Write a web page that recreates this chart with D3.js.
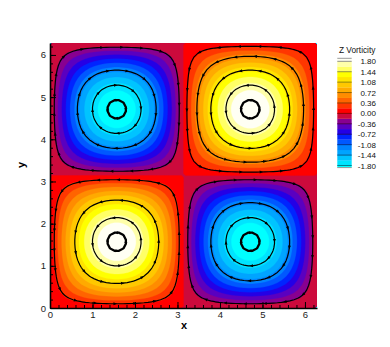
<!DOCTYPE html>
<meta charset="utf-8">
<style>
body { margin: 0; background: #fff; }
text { font-family: "Liberation Sans", Arial, sans-serif; }
</style>
<body>
<script src="https://cdn.jsdelivr.net/npm/d3@7"></script>
<script>

// vorticity across the box as a fraction of the peak, one value per cell (64 cells from 0 to 2pi)
var halfProfile = [0.049, 0.147, 0.243, 0.337, 0.428, 0.514, 0.596, 0.672, 0.741, 0.803, 0.858, 0.904,
  0.942, 0.970, 0.989, 0.999, 0.999, 0.989, 0.970, 0.942, 0.904, 0.858, 0.803, 0.741, 0.672, 0.596,
  0.514, 0.428, 0.337, 0.243, 0.147, 0.049];
var profile = halfProfile.concat(halfProfile.map(function(v) { return -v; }));
var peakVorticity = 2.0;

// flood levels and the colour of each band (below first level ... above last level)
var levels = [-1.8, -1.62, -1.44, -1.26, -1.08, -0.9, -0.72, -0.54, -0.36, -0.18, 0,
  0.18, 0.36, 0.54, 0.72, 0.9, 1.08, 1.26, 1.44, 1.62, 1.8];
var bandColors = ["#00ffff", "#00e4ff", "#00c4ff", "#00a4ff", "#0084ff", "#0058ff", "#0024ff",
  "#2400e6", "#5a00c0", "#880090", "#cc0a3c", "#ff0000", "#ff3600", "#ff6400", "#ff8c00",
  "#ffaa00", "#ffc800", "#ffe400", "#ffff00", "#ffff66", "#ffffaa", "#fffff4"];
var legendLabels = ["1.80", "1.44", "1.08", "0.72", "0.36", "0.00", "-0.36", "-0.72", "-1.08", "-1.44", "-1.80"];

// streamlines, as a fraction of the peak, per vortex (BL, BR, TL, TR)
var vortexNames = ["BL", "BR", "TL", "TR"];
var vortexSigns = [1, -1, -1, 1];
var streamLevels = [[0.1, 0.55, 0.84, 0.975], [0.1, 0.6, 0.84, 0.975],
  [0.1, 0.6, 0.84, 0.975], [0.08, 0.31, 0.6, 0.84, 0.975]];

var xTicks = [0, 1, 2, 3, 4, 5, 6];
var yTicks = [0, 1, 2, 3, 4, 5, 6];

var W = 390, H = 347;
var margin = {left: 50, top: 43, right: 73, bottom: 39};
var pw = W - margin.left - margin.right, ph = H - margin.top - margin.bottom;

var svg = d3.select("body").append("svg").attr("width", W).attr("height", H);

var x = d3.scaleLinear().domain([0, 2 * Math.PI]).range([margin.left, margin.left + pw]);
var y = d3.scaleLinear().domain([0, 2 * Math.PI]).range([margin.top + ph, margin.top]);

// grid of vorticity, values at cell centres
var n = profile.length, h = 2 * Math.PI / n;
var values = [];
for (var j = 0; j < n; j++)
  for (var i = 0; i < n; i++)
    values.push(peakVorticity * profile[i] * profile[j]);

function px(p) { return x(p[0] * h); }
function py(p) { return y(p[1] * h); }
var ringLine = d3.line().x(px).y(py).curve(d3.curveLinearClosed);

svg.append("clipPath").attr("id", "plot")
  .append("rect").attr("x", margin.left).attr("y", margin.top).attr("width", pw).attr("height", ph);

var plot = svg.append("g").attr("clip-path", "url(#plot)");

plot.append("rect")
  .attr("x", margin.left).attr("y", margin.top).attr("width", pw).attr("height", ph)
  .attr("fill", bandColors[0]);

var bands = d3.contours().size([n, n]).thresholds(levels)(values);
bands.forEach(function(c, k) {
  var d = "";
  c.coordinates.forEach(function(poly) {
    poly.forEach(function(ring) { d += ringLine(ring.slice(0, ring.length - 1)); });
  });
  if (d) plot.append("path").attr("d", d).attr("fill-rule", "evenodd")
    .attr("fill", bandColors[k + 1]).attr("stroke", bandColors[k + 1]).attr("stroke-width", 0.3);
});

// streamlines with arrows
var negValues = values.map(function(v) { return -v; });
var lines = plot.append("g");
vortexNames.forEach(function(name, q) {
  var field = vortexSigns[q] > 0 ? values : negValues;
  streamLevels[q].forEach(function(L) {
    var c = d3.contours().size([n, n]).thresholds([L * peakVorticity])(field)[0];
    c.coordinates.forEach(function(poly) {
      var ring = poly[0];
      var cx = d3.mean(ring, function(p) { return p[0]; }) * h;
      var cy = d3.mean(ring, function(p) { return p[1]; }) * h;
      var nm = (cy < Math.PI ? "B" : "T") + (cx < Math.PI ? "L" : "R");
      if (nm !== name) return;
      var pts = ring.slice(0, ring.length - 1).map(function(p) { return [px(p), py(p)]; });
      var area = 0;
      pts.forEach(function(p, k) {
        var p2 = pts[(k + 1) % pts.length];
        area += p[0] * p2[1] - p2[0] * p[1];
      });
      // positive vorticity turns anticlockwise on screen
      if ((vortexSigns[q] > 0 && area > 0) || (vortexSigns[q] < 0 && area < 0)) pts.reverse();
      var path = lines.append("path")
        .attr("d", d3.line().curve(d3.curveLinearClosed)(pts))
        .attr("fill", "none").attr("stroke", "#000").attr("stroke-width", L > 0.95 ? 2.3 : 1.2);
      var len = path.node().getTotalLength();
      var count = Math.max(4, Math.round(len / 20));
      for (var a = 0; a < count; a++) {
        var s = (a + 0.5) * len / count;
        var p0 = path.node().getPointAtLength(s - 1.5), p1 = path.node().getPointAtLength(s + 1.5);
        var ang = Math.atan2(p1.y - p0.y, p1.x - p0.x) * 180 / Math.PI;
        lines.append("path")
          .attr("d", "M1.8,0L-1.8,-1.5L-1.8,1.5Z")
          .attr("transform", "translate(" + ((p0.x + p1.x) / 2) + "," + ((p0.y + p1.y) / 2) + ") rotate(" + ang + ")")
          .attr("fill", "#000");
      }
    });
  });
});

// axes, ticks pointing inward
function styleAxis(g) {
  g.selectAll("path.domain").attr("stroke", "#000").attr("stroke-width", 1.6);
  g.selectAll(".tick line").attr("stroke", "#000");
  g.selectAll(".tick text").attr("fill", "#222").style("font-size", "9.5px")
    .style("font-family", "'Liberation Sans', Arial, sans-serif");
}
var minor = d3.range(0, 6.3, 0.2);
svg.append("g").attr("transform", "translate(0," + (margin.top + ph) + ")")
  .call(d3.axisBottom(x).tickValues(minor).tickSize(-3).tickFormat("")).call(function(g) { g.select(".domain").remove(); })
  .selectAll(".tick line").attr("stroke", "#000");
svg.append("g").attr("transform", "translate(" + margin.left + ",0)")
  .call(d3.axisLeft(y).tickValues(minor).tickSize(-3).tickFormat("")).call(function(g) { g.select(".domain").remove(); })
  .selectAll(".tick line").attr("stroke", "#000");
svg.append("g").attr("transform", "translate(0," + (margin.top + ph) + ")")
  .call(d3.axisBottom(x).tickValues(xTicks).tickSize(-6).tickSizeOuter(0).tickPadding(3.5).tickFormat(d3.format("d")))
  .call(styleAxis);
svg.append("g").attr("transform", "translate(" + margin.left + ",0)")
  .call(d3.axisLeft(y).tickValues(yTicks).tickSize(-6).tickSizeOuter(0).tickPadding(4).tickFormat(d3.format("d")))
  .call(styleAxis);

svg.append("text").attr("x", 184).attr("y", 329).attr("text-anchor", "middle")
  .style("font-size", "11px").style("font-weight", "bold").text("x");
svg.append("text").attr("transform", "translate(25,165) rotate(-90)").attr("text-anchor", "middle")
  .style("font-size", "11px").style("font-weight", "bold").text("y");

// legend
var ly = d3.scaleLinear().domain([-1.8, 1.8]).range([165.5, 61.3]);
var leg = svg.append("g");
var bx = 337.3, bw = 14.4;
leg.append("rect").attr("x", bx).attr("y", 58.3).attr("width", bw).attr("height", ly(1.8) - 58.3)
  .attr("fill", bandColors[bandColors.length - 1]);
leg.append("rect").attr("x", bx).attr("y", ly(-1.8)).attr("width", bw).attr("height", 167.6 - ly(-1.8))
  .attr("fill", bandColors[0]);
levels.slice(0, levels.length - 1).forEach(function(v, k) {
  leg.append("rect").attr("x", bx).attr("y", ly(levels[k + 1])).attr("width", bw)
    .attr("height", ly(v) - ly(levels[k + 1]) + 0.2).attr("fill", bandColors[k + 1]);
});
leg.append("line").attr("x1", bx).attr("x2", bx + bw).attr("y1", 58.3).attr("y2", 58.3)
  .attr("stroke", "#999").attr("stroke-width", 1);
leg.append("line").attr("x1", bx).attr("x2", bx + bw).attr("y1", 167.6).attr("y2", 167.6)
  .attr("stroke", "#999").attr("stroke-width", 1);
legendLabels.forEach(function(t) {
  var v = +t;
  var k = levels.indexOf(v);
  var col = d3.color(bandColors[k + 1]).darker(1.6);
  leg.append("line").attr("x1", bx).attr("x2", bx + bw).attr("y1", ly(v)).attr("y2", ly(v))
    .attr("stroke", col).attr("stroke-width", 1);
  leg.append("text").attr("x", 376).attr("y", ly(v) + 3).attr("text-anchor", "end")
    .style("font-size", "8px").attr("fill", "#111").text(t);
});
leg.append("text").attr("x", 339).attr("y", 53).style("font-size", "8.3px").attr("fill", "#111").text("Z Vorticity");

</script>
</body>
